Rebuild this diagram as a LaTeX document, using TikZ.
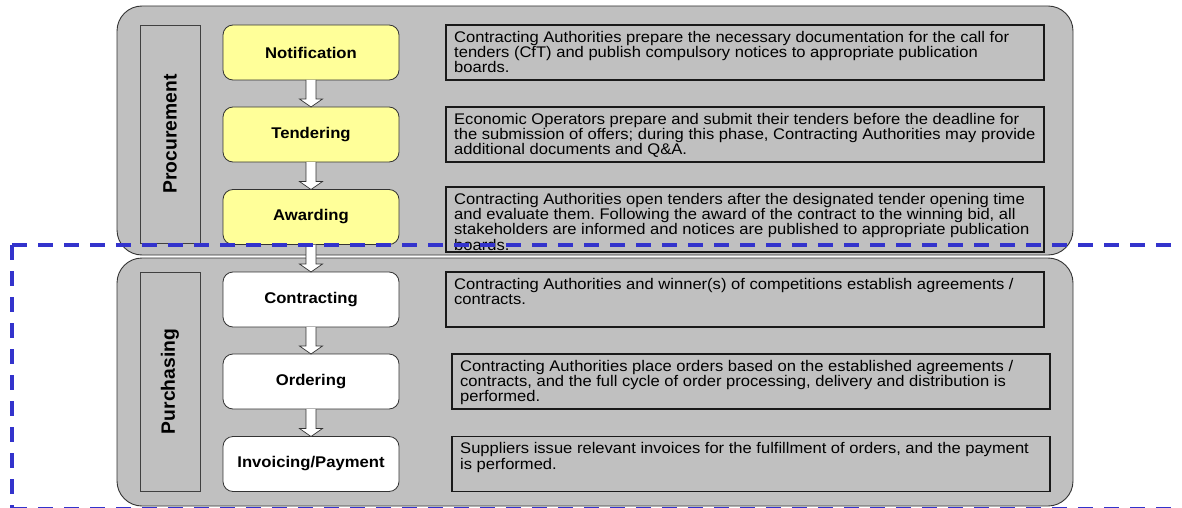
\documentclass[tikz,border=0pt]{standalone}
\usepackage{fontspec}
\setmainfont{Liberation Sans}
\newfontfamily\widesans[FakeStretch=1.075]{Liberation Sans}
\usetikzlibrary{calc}
\frenchspacing
\definecolor{panelgray}{RGB}{192,192,192}
\definecolor{stepyellow}{RGB}{255,255,153}
\definecolor{phaseblue}{RGB}{51,51,204}

% white block arrow from the bottom of one step to the top of the next
\newcommand{\stepflow}[2]{%
  \filldraw[flowarrow]
    ($(#1.south)+(-5,0)$) -- ($(#2.north)+(-5,-8)$) -- ($(#2.north)+(-11.5,-8)$)
    -- (#2.north) -- ($(#2.north)+(11.5,-8)$) -- ($(#2.north)+(5,-8)$)
    -- ($(#1.south)+(5,0)$);}

\begin{document}
\begin{tikzpicture}[x=1pt,y=-1pt,
  panel/.style={draw=black!80, line width=0.9pt, fill=panelgray,
    rounded corners=25pt, minimum width=956pt, inner sep=0pt, outer sep=0pt},
  phasebox/.style={draw=black!75, line width=0.9pt, fill=panelgray,
    minimum width=60pt, inner sep=0pt, outer sep=0pt},
  phasetext/.style={rotate=90, font=\fontsize{19.3}{22}\selectfont\bfseries, inner sep=0pt},
  stepbox/.style={draw=black!80, line width=0.8pt, rounded corners=10pt,
    minimum width=176pt, minimum height=55pt, inner sep=0pt, outer sep=0pt,
    font=\widesans\fontsize{15.5}{18}\selectfont\bfseries},
  procstep/.style={stepbox, fill=stepyellow},
  purchstep/.style={stepbox, fill=white},
  descbox/.style={draw=black!90, line width=1.3pt, minimum width=598pt,
    minimum height=55pt, inner sep=0pt, outer sep=0pt},
  desctext/.style={anchor=north west, align=left, inner sep=0pt,
    font=\widesans\fontsize{15.4}{15.3}\selectfont},
  flowarrow/.style={fill=white, draw=black!80, line width=0.7pt, line join=miter},
  phaseline/.style={draw=phaseblue, line width=3.6pt, dash pattern=on 15pt off 11pt}
]
\useasboundingbox (0,0) rectangle (1182,508);

% two phase panels
\node[panel, minimum height=249pt] (proc) at (595,130.5) {};
\node[panel, minimum height=248pt] (purch) at (595,382) {};

% vertical phase titles
\node[phasebox, minimum height=218pt] (proclbl) at (170,134) {};
\node[phasetext] (proctxt) at (proclbl.center) {Procurement};
\node[phasebox, minimum height=219pt] (purchlbl) at (170,381.5) {};
\node[phasetext] (purchtxt) at (purchlbl.center) {Purchasing};

% process steps
\node[procstep] (notif) at (311,52.5) {Notification};
\node[procstep] (tender) at (311,134.5) {Tendering};
\node[procstep] (award) at (311,217) {Awarding};
\node[purchstep] (contract) at (311,299.5) {Contracting};
\node[purchstep] (order) at (311,381.5) {Ordering};
\node[purchstep] (invoice) at (311,464) {Invoicing/Payment};

% descriptions
\node[descbox] (dnotif) at (745,52.5) {};
\node[desctext] (tnotif) at ($(dnotif.north west)+(8,6)$)
  {Contracting Authorities prepare the necessary documentation for the call for\\
   tenders (CfT) and publish compulsory notices to appropriate publication\\
   boards.};

\node[descbox] (dtender) at (745,134.5) {};
\node[desctext] (ttender) at ($(dtender.north west)+(8,6)$)
  {Economic Operators prepare and submit their tenders before the deadline for\\
   the submission of offers; during this phase, Contracting Authorities may provide\\
   additional documents and Q\&A.};

\node[descbox, minimum height=65pt] (daward) at (745,219.5) {};
\node[desctext] (taward) at ($(daward.north west)+(8,6)$)
  {Contracting Authorities open tenders after the designated tender opening time\\
   and evaluate them. Following the award of the contract to the winning bid, all\\
   stakeholders are informed and notices are published to appropriate publication\\
   boards.};

\node[descbox] (dcontract) at (745,299.5) {};
\node[desctext] (tcontract) at ($(dcontract.north west)+(8,6)$)
  {Contracting Authorities and winner(s) of competitions establish agreements /\\
   contracts.};

\node[descbox] (dorder) at (751,381.5) {};
\node[desctext] (torder) at ($(dorder.north west)+(8,6)$)
  {Contracting Authorities place orders based on the established agreements /\\
   contracts, and the full cycle of order processing, delivery and distribution is\\
   performed.};

\node[descbox] (dinvoice) at (751,464) {};
\node[desctext] (tinvoice) at ($(dinvoice.north west)+(8,6)$)
  {Suppliers issue relevant invoices for the fulfillment of orders, and the payment\\
   is performed.};

% flow between steps
\stepflow{notif}{tender}
\stepflow{tender}{award}
\stepflow{award}{contract}
\stepflow{contract}{order}
\stepflow{order}{invoice}

% dashed frame around the purchasing side
\draw[phaseline] (12,245) -- (1190,245);
\draw[phaseline] (12,245) -- (12,520);
\draw[phaseline] (12,508.5) -- (1190,508.5);
\end{tikzpicture}
\end{document}
